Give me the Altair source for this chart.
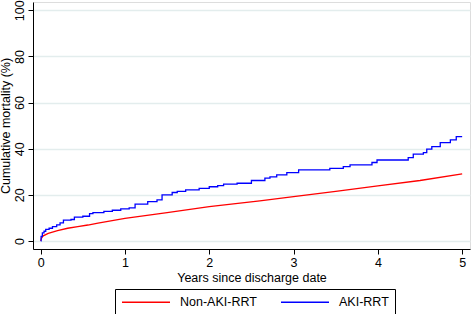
import altair as alt
import pandas as pd

# AKI-RRT (step function)
aki_x = [0, 0.005, 0.02, 0.04, 0.06, 0.1, 0.14, 0.19, 0.23, 0.27, 0.36, 0.4, 0.5, 0.58,
         0.62, 0.75, 0.85, 0.95, 1.05, 1.12, 1.27, 1.38, 1.44, 1.56, 1.62, 1.72, 1.88,
         2.0, 2.1, 2.17, 2.33, 2.5, 2.66, 2.72, 2.8, 2.92, 3.06, 3.43, 3.59, 3.67, 3.93,
         3.99, 4.36, 4.42, 4.54, 4.58, 4.64, 4.74, 4.86, 4.93, 5.0]
aki_y = [0, 2.0, 3.5, 4.2, 5.0, 5.5, 6.2, 7.0, 7.8, 9.0, 9.3, 10.3, 10.7, 11.8,
         12.3, 12.8, 13.3, 13.9, 14.3, 16.0, 17.0, 17.8, 20.0, 21.0, 21.5, 22.1, 22.8,
         23.5, 24.0, 24.6, 25.0, 26.2, 27.2, 27.8, 28.6, 29.6, 30.8, 31.5, 32.2, 33.0, 34.0,
         35.1, 36.1, 37.6, 38.3, 39.8, 40.9, 42.6, 43.8, 45.2, 45.2]

# Non-AKI-RRT
non_x = [0, 0.01, 0.03, 0.09, 0.2, 0.32, 0.44, 0.56, 0.68, 1.0, 1.5, 2.0, 2.6, 3.0,
         3.5, 4.0, 4.5, 5.0]
non_y = [0, 1.2, 2.2, 3.3, 4.5, 5.5, 6.2, 6.9, 7.7, 9.8, 12.3, 14.9, 17.4, 19.2,
         21.5, 23.9, 26.2, 29.1]

series = ["Non-AKI-RRT", "AKI-RRT"]
colors = ["#ff0000", "#0000ff"]
x_ticks = [0, 1, 2, 3, 4, 5]
y_ticks = [0, 20, 40, 60, 80, 100]

df_non = pd.DataFrame({"x": non_x, "y": non_y, "group": series[0]})
df_aki = pd.DataFrame({"x": aki_x, "y": aki_y, "group": series[1]})

FONT = "Liberation Sans"
FS = 12.5

x_enc = alt.X("x:Q", scale=alt.Scale(domain=[-0.091, 5.093], nice=False, zero=False),
              axis=alt.Axis(title="Years since discharge date", values=x_ticks, grid=False,
                            tickSize=5, labelPadding=2, titlePadding=3,
                            domainColor="#000000", tickColor="#000000",
                            labelColor="#000000", titleColor="#000000",
                            labelFontSize=FS, titleFontSize=FS, titleFontWeight="normal",
                            labelFont=FONT, titleFont=FONT))
y_enc = alt.Y("y:Q", scale=alt.Scale(domain=[-3.5, 103.6], nice=False, zero=False),
              axis=alt.Axis(title="Cumulative mortality (%)", values=y_ticks, grid=True,
                            gridColor="#e3eded", gridWidth=1.5,
                            tickSize=5, labelPadding=2, titlePadding=1,
                            labelAngle=270, labelAlign="center", labelBaseline="bottom",
                            domainColor="#000000", tickColor="#000000",
                            labelColor="#000000", titleColor="#000000",
                            labelFontSize=FS, titleFontSize=FS, titleFontWeight="normal",
                            labelFont=FONT, titleFont=FONT))

color_enc = alt.Color("group:N", scale=alt.Scale(domain=series, range=colors),
                      legend=alt.Legend(title=None, orient="none", direction="horizontal",
                                        legendX=82, legendY=287,
                                        symbolType="M-1,0H7", symbolSize=144,
                                        symbolStrokeWidth=1.5, labelOffset=45,
                                        columnPadding=21, padding=6,
                                        strokeColor="#000000",
                                        labelFontSize=FS, labelFont=FONT,
                                        labelColor="#000000"))

non_line = alt.Chart(df_non).mark_line(strokeWidth=1.3, clip=True).encode(
    x=x_enc, y=y_enc, color=color_enc)
aki_line = alt.Chart(df_aki).mark_line(interpolate="step-after", strokeWidth=1.3, clip=True).encode(
    x=x_enc, y=y_enc, color=color_enc)

chart = alt.layer(non_line, aki_line).properties(
    width=437, height=247,
    autosize=alt.AutoSizeParams(type="none"),
    padding={"left": 33, "top": 2, "right": 1, "bottom": 65},
).configure_view(stroke=None).configure(background="white")

chart.save("out.html", embed_options={"renderer": "svg", "actions": False})
